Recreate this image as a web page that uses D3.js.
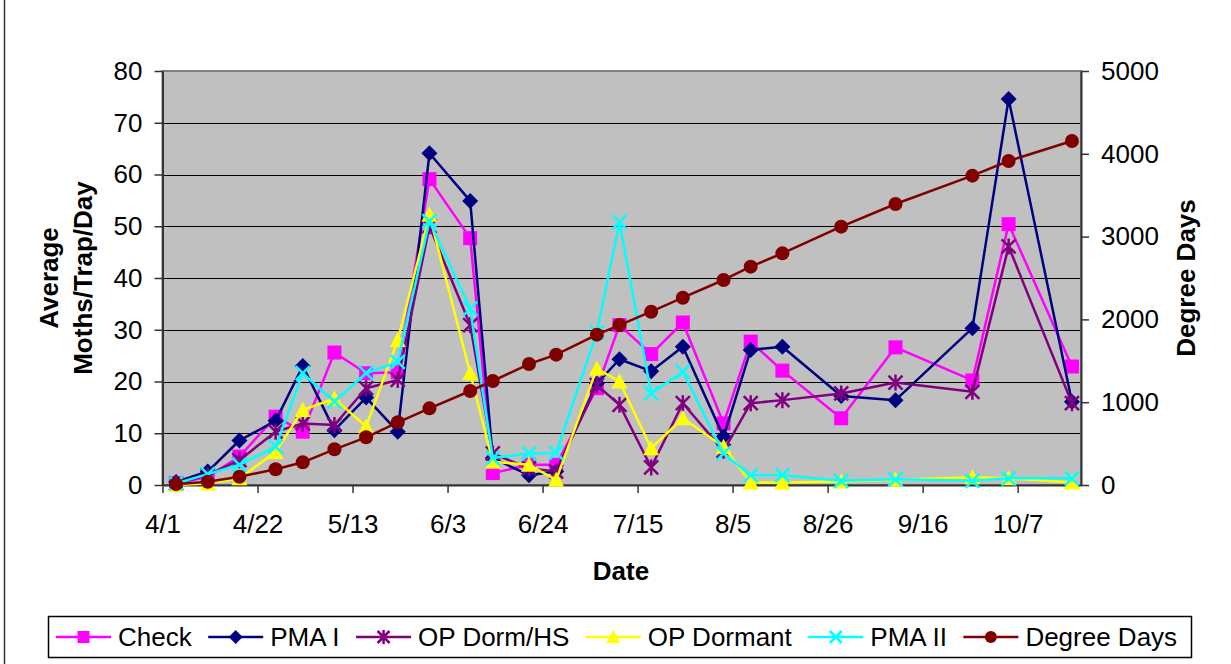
<!DOCTYPE html>
<html>
<head>
<meta charset="utf-8">
<script src="https://cdn.jsdelivr.net/npm/d3@7"></script>
<style>
  body { margin: 0; background: #fff; }
  svg { display: block; font-family: Arial, "Liberation Sans", sans-serif; }
</style>
</head>
<body>
<svg id="chart" width="1231" height="664"></svg>
<script>
// sample dates (month/day) and trap counts
const dates = ['4/4','4/11','4/18','4/26','5/2','5/9','5/16','5/23','5/30','6/8','6/13','6/21','6/27',
  '7/6','7/11','7/18','7/25','8/3','8/9','8/16','8/29','9/10','9/27','10/5','10/19'];
const check = [0.3,1.6,5.5,13.2,10.3,25.6,21.6,21.8,59.1,47.7,2.3,3.9,3.9,18.7,30.9,25.3,31.4,11.9,27.7,22.1,12.9,26.6,20.2,50.4,22.9];
const pmaI = [0.6,2.6,8.6,12.4,23,10.6,16.9,10.3,64.1,54.9,5.2,1.9,2.6,19.6,24.3,22,26.7,9.3,26.1,26.7,17.2,16.4,30.3,74.6,16.1];
const opDormHS = [0.3,1.9,4.8,10.3,11.9,11.6,18.7,20.3,50,30.9,6.1,3.2,2.6,19.3,15.5,3.4,15.8,6.6,15.8,16.4,17.7,19.8,18.0,46.1,15.8];
const opDormant = [0,0.3,1.3,6.4,14.5,16.7,11.3,28,52.2,21.6,4.5,3.9,1.0,22.5,20,7.1,12.9,7.4,0.5,0.5,0.7,1.0,1.5,1.3,0.5];
const pmaII = [0.3,2.1,3.9,7.4,21.6,16.1,21.6,23.8,51,34.1,5.2,6.1,6.2,29.5,50.8,17.7,21.9,6.1,1.9,1.9,0.8,1.1,0.8,1.3,1.3];
const degreeDays = [10,40,100,190,274,431,576,757,926,1135,1256,1461,1574,1816,1932,2093,2262,2476,2637,2798,3120,3394,3736,3913,4155];

const xTickLabels = ['4/1','4/22','5/13','6/3','6/24','7/15','8/5','8/26','9/16','10/7'];
const xDomainLabels = ['4/1','10/21'];
const leftTicks = [0,10,20,30,40,50,60,70,80];
const rightTicks = [0,1000,2000,3000,4000,5000];

const seriesNames = ['Check','PMA I','OP Dorm/HS','OP Dormant','PMA II','Degree Days'];
const seriesColors = ['#FF00FF','#000080','#800080','#FFFF00','#00FFFF','#800000'];
const seriesMarkers = ['square','diamond','asterisk','triangle','cross','circle'];

function parseMD(s) {
  const [m, d] = s.split('/').map(Number);
  return new Date(Date.UTC(2003, m - 1, d));
}

const svg = d3.select('#chart');
const plot = { left: 162.5, right: 1081, top: 71, bottom: 485 };

const x = d3.scaleUtc().domain(xDomainLabels.map(parseMD)).range([plot.left, plot.right]);
const yL = d3.scaleLinear().domain([0, 80]).range([plot.bottom, plot.top]);
const yR = d3.scaleLinear().domain([0, 5000]).range([plot.bottom, plot.top]);

// outer chart border (only left edge visible in crop)
svg.append('line').attr('x1', 4.5).attr('x2', 4.5).attr('y1', 0).attr('y2', 664)
  .attr('stroke', '#333').attr('stroke-width', 1.5);

// plot area
svg.append('rect')
  .attr('x', plot.left).attr('y', plot.top)
  .attr('width', plot.right - plot.left).attr('height', plot.bottom - plot.top)
  .attr('fill', '#C0C0C0');

svg.append('g').selectAll('line')
  .data(leftTicks.filter(v => v > 0 && v < 80))
  .join('line')
  .attr('x1', plot.left).attr('x2', plot.right)
  .attr('y1', d => Math.round(yL(d)) + 0.5).attr('y2', d => Math.round(yL(d)) + 0.5)
  .attr('stroke', '#000').attr('stroke-width', 1);

svg.append('rect')
  .attr('x', plot.left).attr('y', plot.top)
  .attr('width', plot.right - plot.left).attr('height', plot.bottom - plot.top)
  .attr('fill', 'none').attr('stroke', '#808080').attr('stroke-width', 2);

// axes
const fontSize = 26;
const axL = svg.append('g').attr('transform', `translate(${plot.left},0)`)
  .call(d3.axisLeft(yL).tickValues(leftTicks).tickSize(8).tickPadding(12).tickSizeOuter(0));
const axR = svg.append('g').attr('transform', `translate(${plot.right},0)`)
  .call(d3.axisRight(yR).tickValues(rightTicks).tickFormat(d3.format('d'))
    .tickSize(8).tickPadding(12).tickSizeOuter(0));
const axB = svg.append('g').attr('transform', `translate(0,${plot.bottom})`)
  .call(d3.axisBottom(x).tickValues(xTickLabels.map(parseMD))
    .tickFormat((d, i) => xTickLabels[i]).tickSize(8).tickPadding(22).tickSizeOuter(0));

[axL, axR, axB].forEach(g => {
  g.select('.domain').attr('stroke', '#333').attr('stroke-width', 2);
  g.selectAll('.tick line').attr('stroke', '#333').attr('stroke-width', 1.5);
  g.selectAll('.tick text').attr('fill', '#000').attr('font-size', fontSize)
    .attr('font-family', 'Arial, "Liberation Sans", sans-serif');
});

// axis titles
svg.append('text').attr('x', 621).attr('y', 580).attr('text-anchor', 'middle')
  .attr('font-size', 26).attr('font-weight', 'bold').text('Date');
svg.append('text').attr('transform', 'translate(1195,278) rotate(-90)').attr('text-anchor', 'middle')
  .attr('font-size', 26).attr('font-weight', 'bold').text('Degree Days');
const yTitle = svg.append('text').attr('transform', 'translate(0,278) rotate(-90)')
  .attr('text-anchor', 'middle').attr('font-size', 26).attr('font-weight', 'bold');
yTitle.append('tspan').attr('x', 0).attr('y', 58).text('Average');
yTitle.append('tspan').attr('x', 0).attr('y', 92).text('Moths/Trap/Day');

// markers
function drawMarker(g, type, color, s) {
  const h = s / 2;
  if (type === 'square') {
    g.append('rect').attr('x', -h).attr('y', -h).attr('width', s).attr('height', s).attr('fill', color);
  } else if (type === 'diamond') {
    g.append('path').attr('d', `M0,${-h - 1}L${h + 1},0L0,${h + 1}L${-h - 1},0Z`).attr('fill', color);
  } else if (type === 'triangle') {
    g.append('path').attr('d', `M0,${-h - 1}L${h + 1},${h}L${-h - 1},${h}Z`).attr('fill', color);
  } else if (type === 'circle') {
    g.append('circle').attr('r', h).attr('fill', color);
  } else if (type === 'cross') {
    g.append('path').attr('d', `M${-h},${-h}L${h},${h}M${-h},${h}L${h},${-h}`)
      .attr('stroke', color).attr('stroke-width', 2.5).attr('fill', 'none');
  } else if (type === 'asterisk') {
    g.append('path').attr('d', `M${-h},${-h}L${h},${h}M${-h},${h}L${h},${-h}M0,${-h - 1}L0,${h + 1}`)
      .attr('stroke', color).attr('stroke-width', 2.5).attr('fill', 'none');
  }
}

const seriesValues = [check, pmaI, opDormHS, opDormant, pmaII, degreeDays];
const xDates = dates.map(parseMD);

seriesValues.forEach((vals, si) => {
  const yScale = si === 5 ? yR : yL;
  const pts = vals.map((v, i) => [x(xDates[i]), yScale(v)]);
  const g = svg.append('g');
  g.append('path').attr('d', d3.line()(pts))
    .attr('fill', 'none').attr('stroke', seriesColors[si]).attr('stroke-width', 2.5)
    .attr('stroke-linejoin', 'round');
  pts.forEach(p => {
    const mg = g.append('g').attr('transform', `translate(${p[0]},${p[1]})`);
    drawMarker(mg, seriesMarkers[si], seriesColors[si], 14);
  });
});

// legend
const legend = svg.append('g');
legend.append('rect').attr('x', 48.5).attr('y', 616.5).attr('width', 1143).attr('height', 41)
  .attr('fill', '#fff').attr('stroke', '#000').attr('stroke-width', 1.5);
let lx = 56;
const ly = 637;
seriesNames.forEach((name, i) => {
  legend.append('line').attr('x1', lx).attr('x2', lx + 55).attr('y1', ly).attr('y2', ly)
    .attr('stroke', seriesColors[i]).attr('stroke-width', 2.5);
  const mg = legend.append('g').attr('transform', `translate(${lx + 27.5},${ly})`);
  drawMarker(mg, seriesMarkers[i], seriesColors[i], 12);
  const t = legend.append('text').attr('x', lx + 62).attr('y', ly + 9)
    .attr('font-size', 26).attr('fill', '#000').text(name);
  lx += 62 + t.node().getComputedTextLength() + 16.5;
});
</script>
</body>
</html>
